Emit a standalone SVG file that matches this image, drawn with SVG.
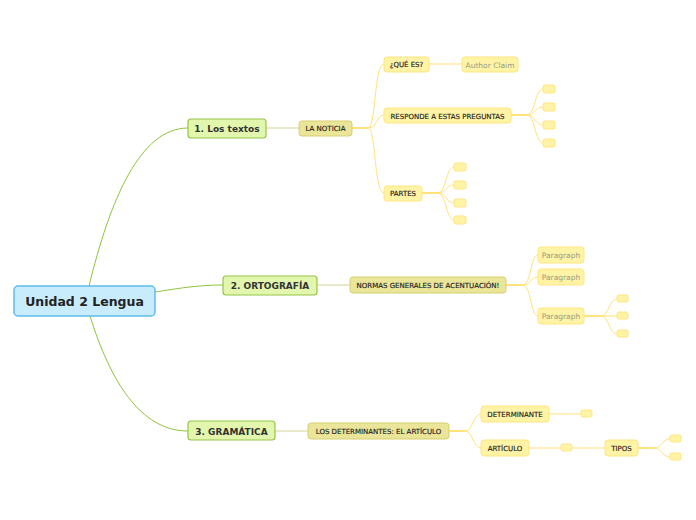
<svg xmlns="http://www.w3.org/2000/svg" width="696" height="520" viewBox="0 0 696 520">
<style>
.root rect{fill:#c9ecfc;stroke:#5cbde9;stroke-width:1.5}
.root text{font-family:"DejaVu Sans",Verdana,sans-serif;font-weight:bold;font-size:12.5px;fill:#222}
.main rect{fill:#e2f7ad;stroke:#94c548;stroke-width:1.2}
.main text{font-family:"DejaVu Sans",Verdana,sans-serif;font-weight:bold;font-size:9px;fill:#333}
.sub rect{fill:#eae598;stroke:#d6cf72;stroke-width:1}
.sub text{font-family:"DejaVu Sans",Verdana,sans-serif;font-size:7px;fill:#222;stroke:#222;stroke-width:0.15}
.leaf rect{fill:#fff3a6;stroke:#ffe580;stroke-width:1}
.leaf text{font-family:"DejaVu Sans",Verdana,sans-serif;font-size:7px;fill:#222;stroke:#222;stroke-width:0.15}
.leaf text.g{fill:#9a9a80;stroke:none;font-size:7.5px}
.c1{fill:none;stroke:#8fc43c;stroke-width:1}
.c2{fill:none;stroke:#d8d49a;stroke-width:1.2}
.c3{fill:none;stroke:#ffe27a;stroke-width:1}
.c3t{fill:none;stroke:#ffe27a;stroke-width:2}
</style>
<g id="connectors">
<path class="c1" d="M89,286 C110,200 140,128 188,128"/>
<path class="c1" d="M155,292 C180,288 200,285 223,285"/>
<path class="c1" d="M90,316 C110,380 140,431 188,431"/>
<path class="c2" d="M266,128 L299,128"/>
<path class="c2" d="M317,285 L350,285"/>
<path class="c2" d="M275,431 L308,431"/>
<path class="c3t" d="M352,128 L368,128"/>
<path class="c3" d="M368,128 C376,128 374,64 384,64"/>
<path class="c3" d="M368,128 C378,128 376,115 384,115"/>
<path class="c3" d="M368,128 C376,128 374,193 384,193"/>
<path class="c3" d="M429,64 L462,64"/>
<path class="c3t" d="M511,115 L527,115"/>
<path class="c3" d="M527,115 C535,115 535,89 543,89"/>
<path class="c3" d="M527,115 C535,115 535,107 543,107"/>
<path class="c3" d="M527,115 C535,115 535,125 543,125"/>
<path class="c3" d="M527,115 C535,115 535,143 543,143"/>
<path class="c3t" d="M422,193 L438,193"/>
<path class="c3" d="M438,193 C446,193 446,167 454,167"/>
<path class="c3" d="M438,193 C446,193 446,185 454,185"/>
<path class="c3" d="M438,193 C446,193 446,203 454,203"/>
<path class="c3" d="M438,193 C446,193 446,220 454,220"/>
<path class="c3t" d="M506,285 L522,285"/>
<path class="c3" d="M522,285 C532,285 530,255 538,255"/>
<path class="c3" d="M522,285 C532,285 530,277 538,277"/>
<path class="c3" d="M522,285 C532,285 530,316 538,316"/>
<path class="c3t" d="M584,316 L601,316"/>
<path class="c3" d="M601,316 C609,316 609,299 617,299"/>
<path class="c3" d="M601,316 L617,316"/>
<path class="c3" d="M601,316 C609,316 609,334 617,334"/>
<path class="c3t" d="M449,431 L465,431"/>
<path class="c3" d="M465,431 C473,431 473,414 481,414"/>
<path class="c3" d="M465,431 C473,431 473,448 481,448"/>
<path class="c3" d="M549,414 L581,414"/>
<path class="c3" d="M529,448 L605,448"/>
<path class="c3t" d="M638,448 L654,448"/>
<path class="c3" d="M654,448 C662,448 662,439 670,439"/>
<path class="c3" d="M654,448 C662,448 662,457 670,457"/>
</g>
<g id="root" class="root"><rect x="14" y="286" width="141" height="30" rx="4"/><text x="84.5" y="305.5" text-anchor="middle">Unidad 2 Lengua</text></g>
<g id="n1" class="main"><rect x="188" y="119" width="78" height="19" rx="3"/><text x="227" y="132" text-anchor="middle">1. Los textos</text></g>
<g id="n2" class="main"><rect x="223" y="276" width="94" height="19" rx="3"/><text x="270" y="289" text-anchor="middle">2. ORTOGRAFÍA</text></g>
<g id="n3" class="main"><rect x="188" y="421" width="87" height="19" rx="3"/><text x="231.5" y="434.5" text-anchor="middle">3. GRAMÁTICA</text></g>
<g id="n1a" class="sub"><rect x="299" y="121" width="53" height="15" rx="3"/><text x="325.5" y="131" text-anchor="middle">LA NOTICIA</text></g>
<g id="n2a" class="sub"><rect x="350" y="277" width="156" height="16" rx="3"/><text x="428" y="288" text-anchor="middle">NORMAS GENERALES DE ACENTUACIÓN!</text></g>
<g id="n3a" class="sub"><rect x="308" y="423" width="141" height="16" rx="3"/><text x="378.5" y="434" text-anchor="middle">LOS DETERMINANTES: EL ARTÍCULO</text></g>
<g id="que" class="leaf"><rect x="384" y="57" width="45" height="15" rx="3"/><text x="406.5" y="67" text-anchor="middle">¿QUÉ ES?</text></g>
<g id="author" class="leaf"><rect x="462" y="57" width="56" height="15" rx="3"/><text class="g" x="490" y="67.5" text-anchor="middle">Author Claim</text></g>
<g id="responde" class="leaf"><rect x="384" y="108" width="127" height="15" rx="3"/><text x="447.5" y="118.5" text-anchor="middle">RESPONDE A ESTAS PREGUNTAS</text></g>
<g id="r1" class="leaf"><rect x="543" y="85" width="12" height="8" rx="2"/></g>
<g id="r2" class="leaf"><rect x="543" y="103" width="12" height="8" rx="2"/></g>
<g id="r3" class="leaf"><rect x="543" y="121" width="12" height="8" rx="2"/></g>
<g id="r4" class="leaf"><rect x="543" y="139" width="12" height="8" rx="2"/></g>
<g id="partes" class="leaf"><rect x="384" y="186" width="38" height="15" rx="3"/><text x="403" y="196" text-anchor="middle">PARTES</text></g>
<g id="p1" class="leaf"><rect x="454" y="163" width="12" height="8" rx="2"/></g>
<g id="p2" class="leaf"><rect x="454" y="181" width="12" height="8" rx="2"/></g>
<g id="p3" class="leaf"><rect x="454" y="199" width="12" height="8" rx="2"/></g>
<g id="p4" class="leaf"><rect x="454" y="216" width="12" height="8" rx="2"/></g>
<g id="para1" class="leaf"><rect x="538" y="247" width="46" height="16" rx="3"/><text class="g" x="561" y="258" text-anchor="middle">Paragraph</text></g>
<g id="para2" class="leaf"><rect x="538" y="269" width="46" height="16" rx="3"/><text class="g" x="561" y="280" text-anchor="middle">Paragraph</text></g>
<g id="para3" class="leaf"><rect x="538" y="308" width="46" height="16" rx="3"/><text class="g" x="561" y="319" text-anchor="middle">Paragraph</text></g>
<g id="q1" class="leaf"><rect x="617" y="295" width="11" height="7" rx="2"/></g>
<g id="q2" class="leaf"><rect x="617" y="312" width="11" height="7" rx="2"/></g>
<g id="q3" class="leaf"><rect x="617" y="330" width="11" height="7" rx="2"/></g>
<g id="det" class="leaf"><rect x="481" y="406" width="68" height="16" rx="3"/><text x="515" y="417" text-anchor="middle">DETERMINANTE</text></g>
<g id="d1" class="leaf"><rect x="581" y="410" width="11" height="7" rx="2"/></g>
<g id="art" class="leaf"><rect x="481" y="440" width="48" height="16" rx="3"/><text x="505" y="451" text-anchor="middle">ARTÍCULO</text></g>
<g id="a1" class="leaf"><rect x="561" y="444" width="11" height="7" rx="2"/></g>
<g id="tipos" class="leaf"><rect x="605" y="440" width="33" height="16" rx="3"/><text x="621.5" y="451" text-anchor="middle">TIPOS</text></g>
<g id="t1" class="leaf"><rect x="670" y="435" width="11" height="7" rx="2"/></g>
<g id="t2" class="leaf"><rect x="670" y="453" width="11" height="7" rx="2"/></g>
</svg>
